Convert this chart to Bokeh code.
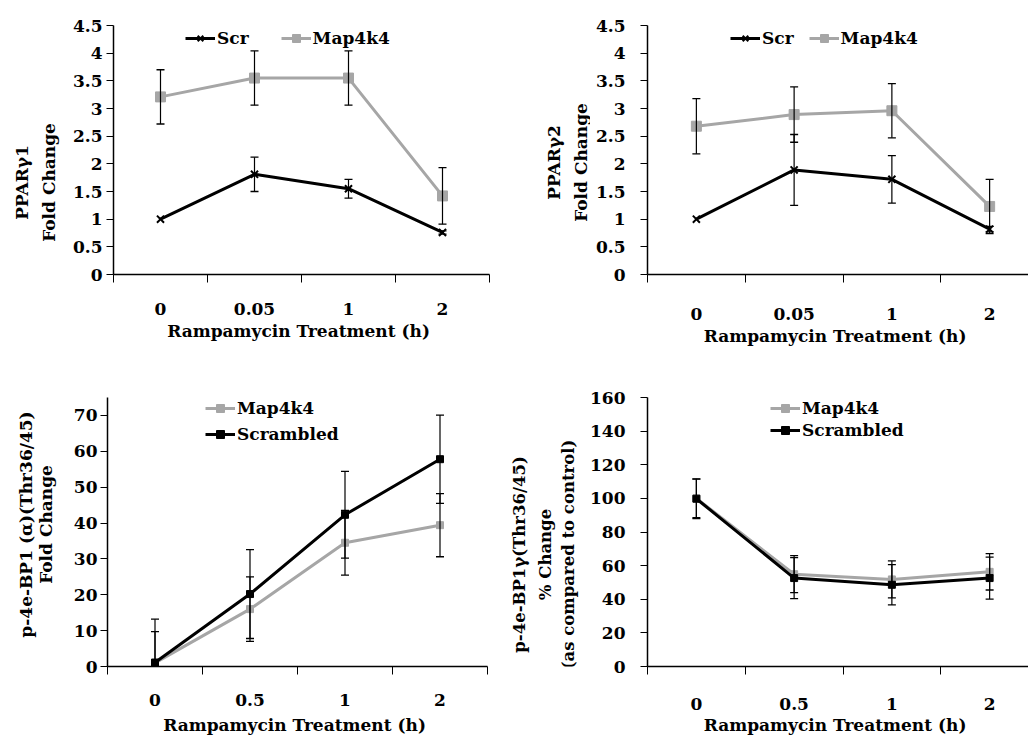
import math
from bokeh.plotting import figure
from bokeh.layouts import column, row
from bokeh.models import (Range1d, FixedTicker, NumeralTickFormatter, Legend,
                          LegendItem)
from bokeh.core.properties import value
from bokeh.embed import file_html
from bokeh.resources import INLINE

FONT = "DejaVu Serif"
BLACK = "#000000"
GRAY = "#A6A6A6"

# ---------------- data ----------------
ppar1_times = ["0", "0.05", "1", "2"]
ppar1_scr = [1.00, 1.81, 1.55, 0.76]
ppar1_scr_err = [0.00, 0.31, 0.17, 0.03]
ppar1_map = [3.21, 3.55, 3.55, 1.42]
ppar1_map_err = [0.49, 0.49, 0.49, 0.51]

ppar2_times = ["0", "0.05", "1", "2"]
ppar2_scr = [1.00, 1.89, 1.72, 0.82]
ppar2_scr_err = [0.00, 0.64, 0.43, 0.05]
ppar2_map = [2.68, 2.89, 2.96, 1.23]
ppar2_map_err = [0.50, 0.50, 0.49, 0.49]

bp1a_times = ["0", "0.5", "1", "2"]
bp1a_map = [1.0, 16.0, 34.5, 39.4]
bp1a_map_err = [8.7, 9.0, 9.0, 8.8]
bp1a_scr = [1.1, 20.2, 42.3, 57.8]
bp1a_scr_err = [12.1, 12.4, 12.1, 12.3]

bp1g_times = ["0", "0.5", "1", "2"]
bp1g_map = [100.0, 54.9, 51.8, 56.3]
bp1g_map_err = [11.5, 11.0, 11.0, 10.8]
bp1g_scr = [99.8, 52.6, 48.6, 52.6]
bp1g_scr_err = [11.8, 12.2, 12.0, 12.5]

X_TITLE = "Rampamycin Treatment  (h)"
YLAB1 = ["PPARγ1", "Fold Change"]
YLAB2 = ["PPARγ2", "Fold Change"]
YLAB3 = ["p-4e-BP1 (α)(Thr36/45)", "Fold Change"]
YLAB4 = ["p-4e-BP1γ(Thr36/45)", "% Change", "(as compared to control)"]

# shared frame borders per row (Bokeh aligns frames inside a row)
ROW1_H, ROW1_TOP, ROW1_BOT = 375, 25, 101
ROW2_H, ROW2_TOP, ROW2_BOT = 369, 22, 78


def make_panel(cats, y_end, y_step, width, height, left, right, top, bottom,
               x_end, ytick_standoff, xtick_standoff, xtitle_standoff):
    p = figure(width=width, height=height, x_range=Range1d(0, x_end),
               y_range=Range1d(0, y_end), output_backend="svg",
               toolbar_location=None, min_border_left=left,
               min_border_right=right, min_border_top=top,
               min_border_bottom=bottom)
    p.outline_line_color = None
    p.grid.visible = False
    p.background_fill_color = "white"
    p.border_fill_color = "white"

    centers = [i + 0.5 for i in range(len(cats))]
    xa = p.xaxis[0]
    xa.ticker = FixedTicker(ticks=centers, minor_ticks=list(range(len(cats) + 1)))
    xa.major_label_overrides = {c: lab for c, lab in zip(centers, cats)}
    xa.major_tick_out = 0
    xa.major_tick_in = 0
    xa.minor_tick_out = 8
    xa.minor_tick_in = 0
    xa.minor_tick_line_color = BLACK
    xa.minor_tick_line_width = 1
    xa.axis_line_color = BLACK
    xa.axis_line_width = 1.5
    xa.major_label_standoff = xtick_standoff
    xa.major_label_text_font = FONT
    xa.major_label_text_font_style = "bold"
    xa.major_label_text_font_size = "17px"
    xa.major_label_text_color = BLACK
    xa.axis_label = X_TITLE
    xa.axis_label_standoff = xtitle_standoff
    xa.axis_label_text_font = FONT
    xa.axis_label_text_font_style = "bold"
    xa.axis_label_text_font_size = "17px"
    xa.axis_label_text_color = BLACK

    ya = p.yaxis[0]
    ya.ticker = FixedTicker(ticks=[k * y_step for k in range(int(y_end // y_step) + 1)],
                            minor_ticks=[])
    ya.formatter = NumeralTickFormatter(format="0.[0]")
    ya.major_tick_out = 7
    ya.major_tick_in = 0
    ya.major_tick_line_color = BLACK
    ya.major_tick_line_width = 1
    ya.minor_tick_line_color = None
    ya.axis_line_color = BLACK
    ya.axis_line_width = 1.5
    ya.major_label_standoff = ytick_standoff
    ya.major_label_text_font = FONT
    ya.major_label_text_font_style = "bold"
    ya.major_label_text_font_size = "17px"
    ya.major_label_text_color = BLACK
    return p, centers


def label_strip(width, height, top, bottom, lines, xs, y_above_frame_bottom,
                size="17px"):
    """Bare figure (no axes, pixel ranges) holding the stacked y-axis titles."""
    fh = height - top - bottom
    f = figure(width=width, height=height, x_range=Range1d(0, width),
               y_range=Range1d(0, fh), x_axis_type=None, y_axis_type=None,
               output_backend="svg", toolbar_location=None,
               min_border_left=0, min_border_right=0,
               min_border_top=top, min_border_bottom=bottom)
    f.outline_line_color = None
    f.background_fill_color = "white"
    f.border_fill_color = "white"
    f.text(x=xs, y=[y_above_frame_bottom] * len(lines), text=lines,
           angle=math.pi / 2, text_align="center", text_baseline="middle",
           text_font=value(FONT), text_font_style="bold",
           text_font_size=value(size), text_color=BLACK)
    return f


def add_series(p, xs, ys, color, marker, size, lw=3):
    ln = p.line(xs, ys, line_color=color, line_width=lw)
    if marker == "x":
        mk = p.scatter(xs, ys, marker="x", size=size, line_color=color, line_width=2)
    else:
        mk = p.scatter(xs, ys, marker=marker, size=size, fill_color=color,
                       line_color=color, line_width=1)
    return ln, mk


def add_errors(p, xs, ys, errs):
    ex = [x for x, e in zip(xs, errs) if e > 0]
    lo = [y - e for y, e in zip(ys, errs) if e > 0]
    hi = [y + e for y, e in zip(ys, errs) if e > 0]
    p.segment(x0=ex, y0=lo, x1=ex, y1=hi, line_color=BLACK, line_width=1.2)
    p.scatter(ex, hi, marker="dash", size=8, line_color=BLACK, line_width=1.3)
    p.scatter(ex, lo, marker="dash", size=8, line_color=BLACK, line_width=1.3)


def add_legend(p, items, loc, orientation, spacing):
    p.add_layout(Legend(items=items, location=loc, orientation=orientation,
                        spacing=spacing, padding=0, margin=0, glyph_width=30,
                        glyph_height=20, label_standoff=2,
                        border_line_color=None, background_fill_alpha=0,
                        label_text_font=FONT, label_text_font_style="bold",
                        label_text_font_size="17px", label_text_color=BLACK,
                        label_height=20))


# ---------------- panel 1 : PPARγ1 ----------------
p1, x1 = make_panel(ppar1_times, 4.5, 0.5, 458, ROW1_H, 53, 29, ROW1_TOP, ROW1_BOT,
                    4, 4, 20, 3)
m_l, m_m = add_series(p1, x1, ppar1_map, GRAY, "square", 10)
s_l, s_m = add_series(p1, x1, ppar1_scr, BLACK, "x", 10)
add_errors(p1, x1, ppar1_map, ppar1_map_err)
add_errors(p1, x1, ppar1_scr, ppar1_scr_err)
add_legend(p1, [LegendItem(label="Scr", renderers=[s_l, s_m]),
                LegendItem(label="Map4k4", renderers=[m_l, m_m])],
           (72, 226), "horizontal", 32)
lab1 = label_strip(60, ROW1_H, ROW1_TOP, ROW1_BOT, YLAB1, [21, 48], 92)

# ---------------- panel 2 : PPARγ2 ----------------
p2, x2 = make_panel(ppar2_times, 4.5, 0.5, 438, ROW1_H, 57, 0, ROW1_TOP, ROW1_BOT,
                    381 / 97.75, 15, 25, 3)
m_l, m_m = add_series(p2, x2, ppar2_map, GRAY, "square", 10)
s_l, s_m = add_series(p2, x2, ppar2_scr, BLACK, "x", 10)
add_errors(p2, x2, ppar2_map, ppar2_map_err)
add_errors(p2, x2, ppar2_scr, ppar2_scr_err)
add_legend(p2, [LegendItem(label="Scr", renderers=[s_l, s_m]),
                LegendItem(label="Map4k4", renderers=[m_l, m_m])],
           (83, 226), "horizontal", 15)
lab2 = label_strip(72, ROW1_H, ROW1_TOP, ROW1_BOT, YLAB2, [35, 62], 112)

# ---------------- panel 3 : p-4e-BP1 (α) ----------------
p3, x3 = make_panel(bp1a_times, 75, 10, 448, ROW2_H, 47, 21, ROW2_TOP, ROW2_BOT,
                    4, 3, 19, 6)
m_l, m_m = add_series(p3, x3, bp1a_map, GRAY, "square", 7)
s_l, s_m = add_series(p3, x3, bp1a_scr, BLACK, "square", 7)
add_errors(p3, x3, bp1a_map, bp1a_map_err)
add_errors(p3, x3, bp1a_scr, bp1a_scr_err)
add_legend(p3, [LegendItem(label="Map4k4", renderers=[m_l, m_m]),
                LegendItem(label="Scrambled", renderers=[s_l, s_m])],
           (98, 222), "vertical", 6)
lab3 = label_strip(60, ROW2_H, ROW2_TOP, ROW2_BOT, YLAB3, [25, 45], 142)

# ---------------- panel 4 : p-4e-BP1γ ----------------
p4, x4 = make_panel(bp1g_times, 160, 20, 446, ROW2_H, 65, 0, ROW2_TOP, ROW2_BOT,
                    381 / 97.75, 15, 23, 2)
m_l, m_m = add_series(p4, x4, bp1g_map, GRAY, "square", 7)
s_l, s_m = add_series(p4, x4, bp1g_scr, BLACK, "square", 7)
add_errors(p4, x4, bp1g_map, bp1g_map_err)
add_errors(p4, x4, bp1g_scr, bp1g_scr_err)
add_legend(p4, [LegendItem(label="Map4k4", renderers=[m_l, m_m]),
                LegendItem(label="Scrambled", renderers=[s_l, s_m])],
           (123, 226), "vertical", 2)
lab4 = label_strip(74, ROW2_H, ROW2_TOP, ROW2_BOT, YLAB4, [11, 37, 60], 112,
                   "16.5px")

layout = column(row(lab1, p1, lab2, p2), row(lab3, p3, lab4, p4))
open("out.html", "w").write(file_html(layout, INLINE))
